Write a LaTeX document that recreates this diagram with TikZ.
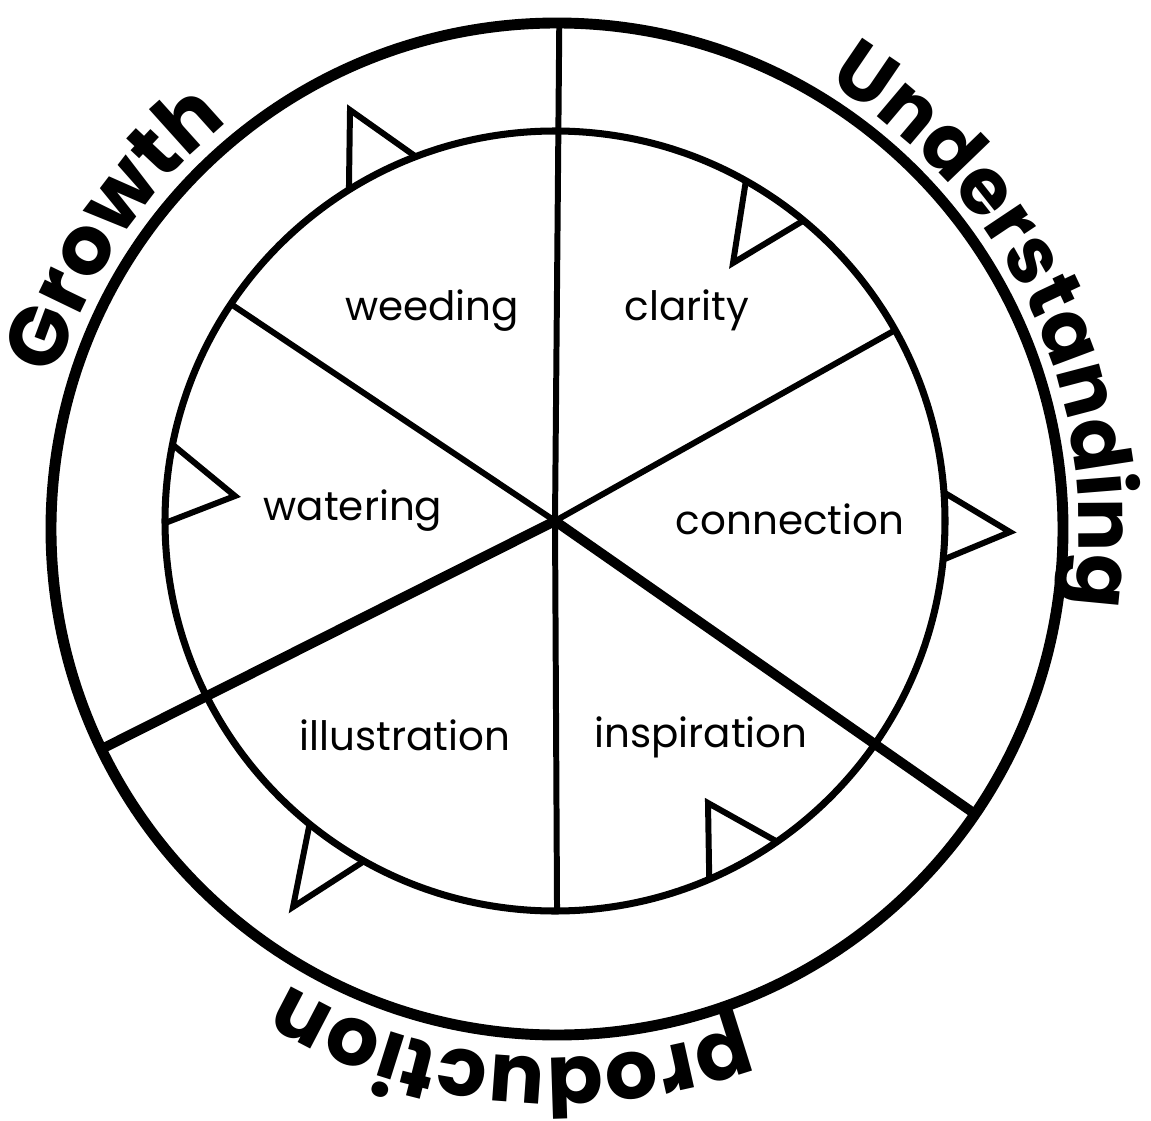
\documentclass[tikz,border=0pt]{standalone}
\usepackage{fontspec}
\setmainfont{Poppins}
\usetikzlibrary{calc,decorations.text}
\begin{document}
\begin{tikzpicture}[x=0.01cm,y=0.01cm,
  outerring/.style={line width=3.1pt},
  innerring/.style={line width=2pt},
  spoke/.style={line width=1.7pt},
  bigspoke/.style={line width=2.8pt},
  marker/.style={line width=1.7pt, line join=miter},
  lbl/.style={font=\fontsize{11.5}{13}\selectfont, anchor=base, inner sep=0pt}]
\useasboundingbox (0,0) rectangle (1151,1120);
% centres
\coordinate (hub) at (555,599);
\coordinate (oc) at (557,591);
% circles
\draw[outerring] (oc) circle[radius=506];
\draw[innerring] (hub) circle[radius=390];
% spoke ends
\coordinate (eTop) at (559.3,1097);
\coordinate (eLR) at (975,306);
\coordinate (eLL) at (101.4,370.9);
\coordinate (eUR) at ($(hub)+(29.3:390)$);
\coordinate (eUL) at ($(hub)+(146.2:390)$);
\coordinate (eDn) at ($(hub)+(-89.7:390)$);
\draw[spoke] (hub) -- (eTop);
\draw[spoke] (hub) -- (eUR);
\draw[spoke] (hub) -- (eUL);
\draw[spoke] (hub) -- (eDn);
\draw[bigspoke] (hub) -- (eLR);
\draw[bigspoke] (hub) -- (eLL);
% triangle markers
\coordinate (t1a) at ($(hub)+(121.9:390)$);
\coordinate (t1b) at ($(hub)+(110.9:390)$);
\coordinate (t1c) at (350,1010);
\draw[marker] (t1a) -- (t1c) -- (t1b);
\coordinate (t2a) at ($(hub)+(60.7:390)$);
\coordinate (t2b) at ($(hub)+(50.4:390)$);
\coordinate (t2c) at (733,857);
\draw[marker] (t2a) -- (t2c) -- (t2b);
\coordinate (t3a) at ($(hub)+(4.2:390)$);
\coordinate (t3b) at ($(hub)+(-5.7:390)$);
\coordinate (t3c) at (1010,588);
\draw[marker] (t3a) -- (t3c) -- (t3b);
\coordinate (t4a) at ($(hub)+(168.7:390)$);
\coordinate (t4b) at ($(hub)+(180.3:390)$);
\coordinate (t4c) at (235,624);
\draw[marker] (t4a) -- (t4c) -- (t4b);
\coordinate (t5a) at ($(hub)+(-66.7:390)$);
\coordinate (t5b) at ($(hub)+(-55.3:390)$);
\coordinate (t5c) at (708,317);
\draw[marker] (t5a) -- (t5c) -- (t5b);
\coordinate (t6a) at ($(hub)+(231.0:390)$);
\coordinate (t6b) at ($(hub)+(240.7:390)$);
\coordinate (t6c) at (293,213);
\draw[marker] (t6a) -- (t6c) -- (t6b);
% inner labels
\node[lbl] (weeding) at (432,800) {weeding};
\node[lbl] (clarity) at (687,800) {clarity};
\node[lbl] (watering) at (353,600) {watering};
\node[lbl] (connection) at (790,586) {connection};
\node[lbl] (illustration) at (405,370) {illustration};
\node[lbl] (inspiration) at (701,373) {inspiration};
% curved outer labels
\path[decorate, decoration={text along path, text align=center,
  text={|\bfseries\fontsize{23.5}{25}\selectfont|Growth}}]
  ($(oc)+(176:523)$) arc[start angle=176, end angle=116, radius=523];
\path[decorate, decoration={text along path, text align=center,
  text={|\bfseries\fontsize{22.5}{24}\selectfont|Understanding}}]
  ($(oc)+(75.2:522)$) arc[start angle=75.2, end angle=-24.8, radius=522];
\path[decorate, decoration={text along path, text align=center,
  text={|\bfseries\fontsize{23.5}{25}\selectfont|production}}]
  ($(oc)+(-50:529)$) arc[start angle=-50, end angle=-140, radius=529];
\end{tikzpicture}
\end{document}
